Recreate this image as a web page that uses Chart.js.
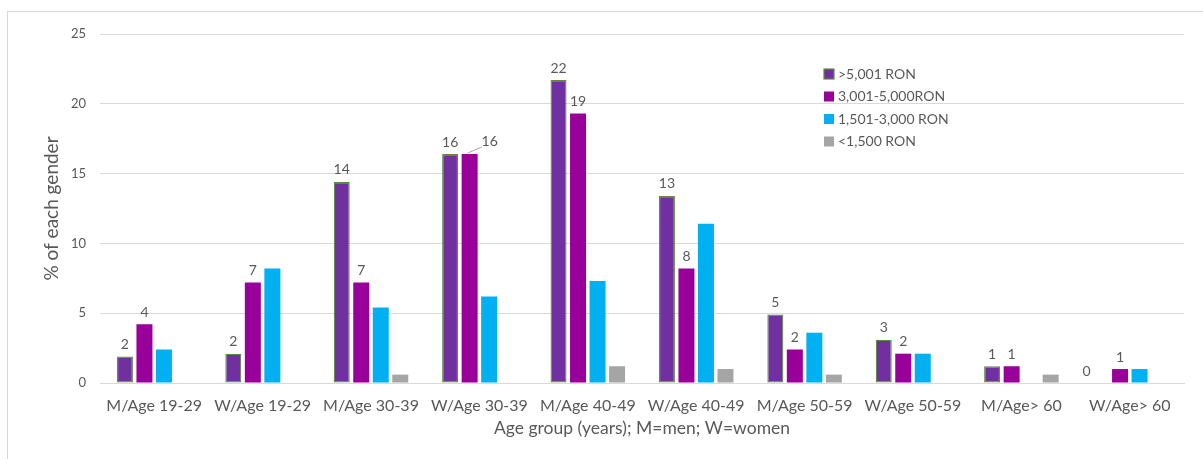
<!DOCTYPE html>
<html>
<head>
<meta charset="utf-8">
<script src="https://cdn.jsdelivr.net/npm/chart.js@4.4.1/dist/chart.umd.min.js"></script>
<style>
  html, body { margin: 0; padding: 0; background: #fff; }
  .frame { position: absolute; left: 7px; top: 11px; right: 0; bottom: 0;
           border-left: 1px solid #d9d9d9; border-top: 1px solid #d9d9d9; }
  .wrap { position: absolute; left: 0; top: 0; width: 1203px; height: 459px; }
</style>
</head>
<body>
<div class="frame"></div>
<div class="wrap"><canvas id="chart"></canvas></div>
<script>
const categories = ['M/Age 19-29', 'W/Age 19-29', 'M/Age 30-39', 'W/Age 30-39', 'M/Age 40-49',
                    'W/Age 40-49', 'M/Age 50-59', 'W/Age 50-59', 'M/Age> 60', 'W/Age> 60'];
const seriesNames = ['>5,001 RON', '3,001-5,000RON', '1,501-3,000 RON', '<1,500 RON'];
const over5001   = [1.9, 2.1, 14.4, 16.4, 21.7, 13.4, 4.9, 3.1, 1.2, 0];
const mid3001    = [4.2, 7.2, 7.2, 16.4, 19.3, 8.2, 2.4, 2.1, 1.2, 1.0];
const mid1501    = [2.4, 8.2, 5.4, 6.2, 7.3, 11.4, 3.6, 2.1, null, 1.0];
const under1500  = [null, null, 0.6, null, 1.2, 1.0, 0.6, null, 0.6, null];
const yTicks     = [0, 5, 10, 15, 20, 25];

const colors = ['#7030a0', '#990099', '#00b0f0', '#a5a5a5'];
const FONT = 'Lato, "Open Sans", sans-serif';

// value labels above the two purple series
const valueLabels = {
  id: 'valueLabels',
  afterDatasetsDraw(chart) {
    const ctx = chart.ctx;
    ctx.save();
    ctx.font = '14px ' + FONT;
    ctx.fillStyle = '#595959';
    ctx.textAlign = 'center';
    ctx.textBaseline = 'bottom';
    [0, 1].forEach(di => {
      const meta = chart.getDatasetMeta(di);
      meta.data.forEach((bar, i) => {
        const v = chart.data.datasets[di].data[i];
        if (v === null) return;
        let x = bar.x, y = bar.y - 5;
        if (v === 0) { x = bar.x - 14; }
        // W/Age 30-39 magenta label was moved aside with a leader line
        if (di === 1 && i === 3) {
          ctx.strokeStyle = '#a6a6a6';
          ctx.lineWidth = 1;
          ctx.beginPath();
          ctx.moveTo(bar.x - 2, bar.y - 1);
          ctx.lineTo(bar.x + 12, bar.y - 7);
          ctx.stroke();
          x = bar.x + 20; y = bar.y - 6;
        }
        ctx.fillText(Math.round(v), x, y);
      });
    });
    ctx.restore();
  }
};

// legend drawn inside the plot area, top right
const innerLegend = {
  id: 'innerLegend',
  afterDraw(chart) {
    const ctx = chart.ctx;
    const a = chart.chartArea;
    const x0 = a.left + 724, y0 = a.top + 40;
    ctx.save();
    ctx.font = '14px ' + FONT;
    ctx.textBaseline = 'middle';
    seriesNames.forEach((name, i) => {
      const y = y0 + i * 22.5;
      ctx.fillStyle = colors[i];
      ctx.fillRect(x0, y - 5, 10, 10);
      if (i === 0) {
        ctx.strokeStyle = '#5f8b3a';
        ctx.lineWidth = 1.2;
        ctx.strokeRect(x0, y - 5, 10, 10);
      }
      ctx.fillStyle = '#595959';
      ctx.fillText(name, x0 + 14, y);
    });
    ctx.restore();
  }
};

const datasets = [over5001, mid3001, mid1501, under1500].map((d, i) => ({
  label: seriesNames[i],
  data: d,
  backgroundColor: colors[i],
  borderColor: i === 0 ? '#5f8b3a' : colors[i],
  borderWidth: i === 0 ? 1.2 : 0,
  borderSkipped: i === 0 ? false : 'start',
  categoryPercentage: 0.72,
  barPercentage: 0.82
}));

new Chart(document.getElementById('chart'), {
  type: 'bar',
  data: { labels: categories, datasets: datasets },
  options: {
    responsive: true,
    maintainAspectRatio: false,
    animation: false,
    layout: { padding: { left: 0, right: 19, top: 34, bottom: 0 } },
    plugins: {
      legend: { display: false },
      tooltip: { enabled: false }
    },
    scales: {
      x: {
        grid: { display: false },
        border: { display: true, color: '#d9d9d9' },
        ticks: { color: '#595959', font: { family: FONT, size: 16 }, padding: 5, maxRotation: 0, autoSkip: false },
        title: { display: true, text: 'Age group (years); M=men; W=women', color: '#595959',
                 font: { family: FONT, size: 17.5 }, padding: { top: 0, bottom: 20 } },
        afterFit(scale) { scale.height = 76; }
      },
      y: {
        min: 0, max: 25,
        afterBuildTicks(scale) { scale.ticks = yTicks.map(v => ({ value: v })); },
        grid: { color: '#d9d9d9', drawTicks: false },
        border: { display: false },
        ticks: { color: '#595959', font: { family: FONT, size: 13 }, padding: 14 },
        title: { display: true, text: '% of each gender', color: '#595959',
                 font: { family: FONT, size: 19 }, padding: { top: 40, bottom: 0 } },
        afterFit(scale) { scale.width = 100; }
      }
    }
  },
  plugins: [valueLabels, innerLegend]
});
</script>
</body>
</html>
